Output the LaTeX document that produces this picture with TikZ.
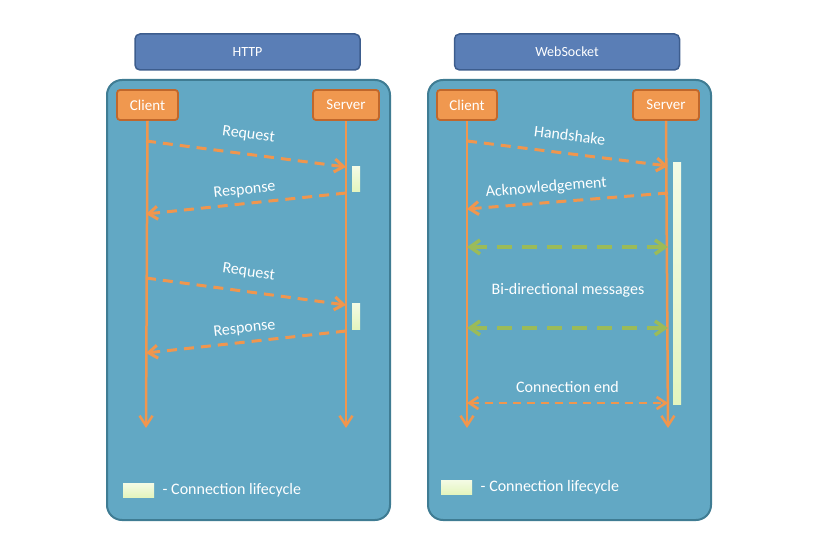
\documentclass[tikz,border=0pt]{standalone}
\usepackage{fontspec}
\setmainfont{Carlito}
\usetikzlibrary{arrows.meta}

\definecolor{panelblue}{HTML}{62A8C4}
\definecolor{paneledge}{HTML}{3F7C93}
\definecolor{headblue}{HTML}{5A7EB6}
\definecolor{headedge}{HTML}{3D5D8E}
\definecolor{boxorange}{HTML}{F0984F}
\definecolor{boxedge}{HTML}{C1672B}
\definecolor{lineorange}{HTML}{F0964E}
\definecolor{msggreen}{HTML}{9BBB59}
\definecolor{lifegreen}{HTML}{E4F5BE}

\tikzset{
  header/.style={draw=headedge, fill=headblue, line width=1.5pt, rounded corners=5pt,
    minimum width=225pt, minimum height=36pt, text=white, font=\fontsize{14}{16}\selectfont},
  panel/.style={draw=paneledge, fill=panelblue, line width=2pt, rounded corners=15pt,
    minimum width=283pt, minimum height=440pt},
  actor/.style={draw=boxedge, fill=boxorange, line width=1.8pt, rounded corners=3pt,
    minimum height=30pt, text=white, font=\fontsize{15}{17}\selectfont},
  lifeline/.style={lineorange, line width=2.5pt, -{Straight Barb[length=10pt,width=13pt]}},
  msg/.style={lineorange, line width=3pt, dash pattern=on 10pt off 7pt,
    -{Straight Barb[length=9pt,width=13pt]}},
  bimsg/.style={msggreen, line width=3.5pt, dash pattern=on 15pt off 10pt,
    {Straight Barb[length=10pt,width=14pt]}-{Straight Barb[length=10pt,width=14pt]}},
  endmsg/.style={lineorange, line width=2.6pt, dash pattern=on 8pt off 6pt,
    {Straight Barb[length=9pt,width=12pt]}-{Straight Barb[length=9pt,width=12pt]}},
  lifebar/.style={draw=none, top color=lifegreen!40!white, bottom color=lifegreen, inner sep=0pt},
  lbl/.style={text=white, font=\fontsize{16}{18}\selectfont},
}

\begin{document}
\begin{tikzpicture}[x=1pt,y=-1pt]
  \useasboundingbox (0,0) rectangle (814,556);

  % HTTP side
  \node[header] (httphead) at (247.5,52) {HTTP};
  \node[panel] (httppanel) at (248.5,300) {};
  \node[actor, minimum width=61pt] (hclient) at (147.5,105) {Client};
  \node[actor, minimum width=66pt] (hserver) at (346,105) {Server};
  \coordinate (hclientend) at (146,428);
  \coordinate (hserverend) at (346,428);
  \draw[lifeline] (hclient.south) -- (hclientend);
  \draw[lifeline] (hserver.south) -- (hserverend);

  \node[lifebar, minimum width=8pt, minimum height=25pt] (hbar1) at (356,179) {};
  \node[lifebar, minimum width=8pt, minimum height=26pt] (hbar2) at (356,316) {};

  \coordinate (hc1) at (146,141);  \coordinate (hs1) at (346,167);
  \coordinate (hs2) at (346,193);  \coordinate (hc2) at (146,214);
  \coordinate (hc3) at (146,278);  \coordinate (hs3) at (346,305);
  \coordinate (hs4) at (346,331);  \coordinate (hc4) at (146,353);
  \draw[msg] (hc1) -- node[lbl, sloped, above=8pt] (hreq1) {Request} (hs1);
  \draw[msg] (hs2) -- node[lbl, sloped, above=2pt] (hres1) {Response} (hc2);
  \draw[msg] (hc3) -- node[lbl, sloped, above=8pt] (hreq2) {Request} (hs3);
  \draw[msg] (hs4) -- node[lbl, sloped, above=2pt] (hres2) {Response} (hc4);

  \node[lifebar, minimum width=31pt, minimum height=14pt] (hkey) at (138.5,490) {};
  \node[lbl, anchor=west, xshift=5pt] (hkeytext) at (hkey.east) {- Connection lifecycle};

  % WebSocket side
  \node[header] (wshead) at (567,52) {WebSocket};
  \node[panel] (wspanel) at (569.5,300) {};
  \node[actor, minimum width=60pt] (wclient) at (467,105) {Client};
  \node[actor, minimum width=66pt] (wserver) at (666,105) {Server};
  \coordinate (wclientend) at (467,428);
  \coordinate (wserverend) at (668,428);
  \draw[lifeline] (wclient.south) -- (wclientend);
  \draw[lifeline] (wserver.south) -- (wserverend);

  \node[lifebar, minimum width=8pt, minimum height=241pt] (wbar) at (677,283.5) {};

  \coordinate (wc1) at (467,141);  \coordinate (ws1) at (668,166);
  \coordinate (ws2) at (668,193);  \coordinate (wc2) at (467,209);
  \coordinate (wc3) at (467,247);  \coordinate (ws3) at (668,247);
  \coordinate (wc4) at (467,328);  \coordinate (ws4) at (668,328);
  \coordinate (wc5) at (467,403);  \coordinate (ws5) at (668,403);
  \draw[msg] (wc1) -- node[lbl, sloped, above=8pt] (whand) {Handshake} (ws1);
  \draw[msg] (ws2) -- node[lbl, sloped, above=3pt, pos=0.6] (wack) {Acknowledgement} (wc2);
  \draw[bimsg] (wc3) -- (ws3);
  \node[lbl] (wbi) at (568,290) {Bi-directional messages};
  \draw[bimsg] (wc4) -- (ws4);
  \draw[endmsg] (wc5) -- node[lbl, above=6pt] (wend) {Connection end} (ws5);

  \node[lifebar, minimum width=31pt, minimum height=14pt] (wkey) at (456.5,487) {};
  \node[lbl, anchor=west, xshift=5pt] (wkeytext) at (wkey.east) {- Connection lifecycle};
\end{tikzpicture}
\end{document}
